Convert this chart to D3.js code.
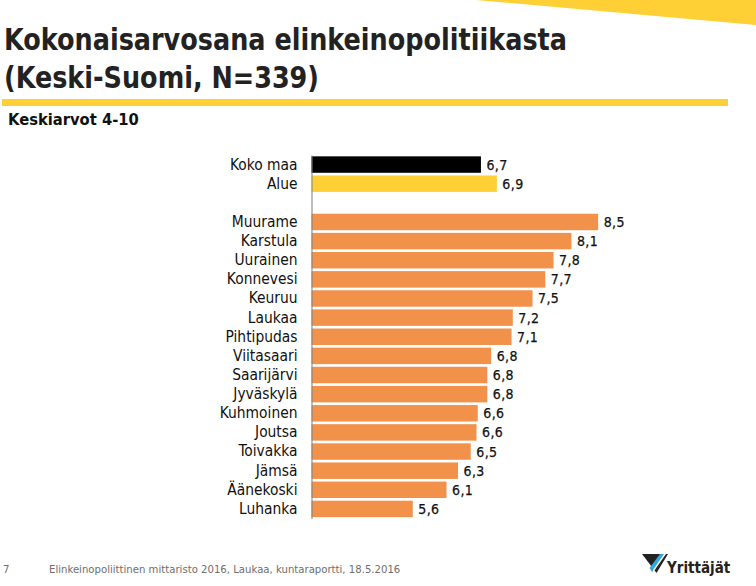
<!DOCTYPE html>
<html>
<head>
<meta charset="utf-8">
<script src="https://cdn.jsdelivr.net/npm/d3@7"></script>
<style>
  html, body { margin: 0; padding: 0; background: #fff; }
  svg { display: block; }
  text { font-family: "DejaVu Sans Condensed", "DejaVu Sans", sans-serif; }
</style>
</head>
<body>
<div id="chart"></div>
<script>
const categories = ["Koko maa", "Alue", "", "Muurame", "Karstula", "Uurainen", "Konnevesi", "Keuruu", "Laukaa",
  "Pihtipudas", "Viitasaari", "Saarijärvi", "Jyväskylä", "Kuhmoinen", "Joutsa", "Toivakka", "Jämsä", "Äänekoski", "Luhanka"];
// labels round these to one decimal
const values = [6.66, 6.91, null, 8.5, 8.08, 7.8, 7.67, 7.47, 7.16, 7.14, 6.82, 6.76, 6.76, 6.61, 6.59, 6.5, 6.3, 6.12, 5.59];
const valueDomain = [4, 10];
const titleLines = ["Kokonaisarvosana elinkeinopolitiikasta", "(Keski-Suomi, N=339)"];
const subtitle = "Keskiarvot 4-10";
const footerPage = "7";
const footerText = "Elinkeinopoliittinen mittaristo 2016, Laukaa, kuntaraportti, 18.5.2016";
const logoText = "Yrittäjät";

const yellow = "#ffd036", orange = "#f2914a";

const svg = d3.select("#chart").append("svg").attr("width", 756).attr("height", 586);

// corner wedge and rule under the title
svg.append("path").attr("d", "M476,0 L756,0 L756,25 Z").attr("fill", yellow);
svg.append("rect").attr("x", 2).attr("y", 99).attr("width", 726).attr("height", 7).attr("fill", yellow);

const titleWidths = [563, 315];
svg.selectAll(".title").data(titleLines).join("text")
  .attr("class", "title")
  .attr("x", 4)
  .attr("y", (d, i) => 50 + i * 38)
  .attr("font-size", 29.5)
  .attr("font-weight", "bold")
  .attr("fill", "#222")
  .attr("textLength", (d, i) => titleWidths[i])
  .attr("lengthAdjust", "spacingAndGlyphs")
  .text(d => d);

svg.append("text").attr("x", 8).attr("y", 125)
  .attr("font-size", 16.4).attr("font-weight", "bold").attr("fill", "#111").text(subtitle);

const x = d3.scaleLinear().domain(valueDomain).range([311.5, 693.7]);
const y = d3.scaleBand().domain(d3.range(categories.length)).range([155, 518.5]).paddingInner(0.14).paddingOuter(0.07);

const rows = categories.map((c, i) => ({ c, v: values[i], i }));

svg.selectAll(".bar").data(rows.filter(d => d.v !== null)).join("rect")
  .attr("class", "bar")
  .attr("x", x(valueDomain[0]))
  .attr("y", d => y(d.i))
  .attr("width", d => x(d.v) - x(valueDomain[0]))
  .attr("height", y.bandwidth())
  .attr("fill", d => d.i === 0 ? "#000" : d.i === 1 ? yellow : orange);

svg.selectAll(".val").data(rows.filter(d => d.v !== null)).join("text")
  .attr("class", "val")
  .attr("x", d => x(d.v) + 5.5)
  .attr("y", d => y(d.i) + y.bandwidth() / 2 + 5)
  .attr("font-size", 14)
  .attr("letter-spacing", 0.4)
  .attr("fill", "#111")
  .attr("stroke", "#111")
  .attr("stroke-width", 0.25)
  .text(d => d3.format(".1f")(d.v).replace(".", ","));

const yAxis = d3.axisLeft(d3.scaleBand().domain(categories.map((c, i) => i + "|" + c)).range(y.range()))
  .tickSize(0).tickPadding(14).tickFormat(d => d.split("|")[1]);
const axisG = svg.append("g").attr("transform", `translate(${x(valueDomain[0])},0)`).call(yAxis);
axisG.select(".domain").attr("stroke", "#808080").attr("stroke-width", 1);
axisG.selectAll("text").attr("font-size", 15.4).attr("fill", "#111");

// footer
svg.append("text").attr("x", 3).attr("y", 573).attr("font-size", 11.25).attr("fill", "#6e6e6e").text(footerPage);
svg.append("text").attr("x", 49).attr("y", 573).attr("font-size", 11.25).attr("fill", "#6e6e6e").text(footerText);

// logo
svg.append("path").attr("d", "M642,554 L668,554 L656.5,573 Z").attr("fill", "#222");
svg.append("path").attr("d", "M660,554 L665,554 L652,572 L649.5,568 Z").attr("fill", "#35a7dc");
svg.append("path").attr("d", "M664,554 L666,554 L654,571 L653,570 Z").attr("fill", "#fff");
svg.append("text").attr("x", 667).attr("y", 573).attr("font-size", 15).attr("font-weight", "bold").attr("fill", "#222").text(logoText);
</script>
</body>
</html>
